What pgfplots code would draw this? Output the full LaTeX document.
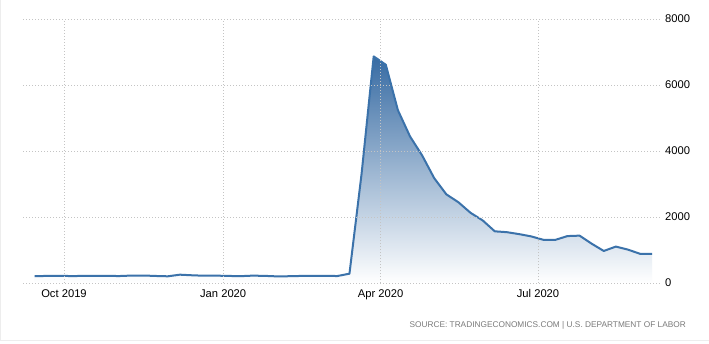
\documentclass[border=0pt]{standalone}
\usepackage{pgfplots}
\pgfplotsset{compat=1.18}
\usepackage{fontspec}
\setmainfont{Liberation Sans}
\definecolor{linec}{HTML}{3B72AA}
\definecolor{topc}{HTML}{376BA3}
\definecolor{gridc}{HTML}{C4C4C4}
\definecolor{srcc}{HTML}{7A7A7A}
\definecolor{framec}{HTML}{EDEDED}
\pgfplotstableread{
day val
-17 210
-10 213
-3 219
4 210
11 214
18 218
25 215
32 211
39 225
46 227
53 213
60 203
67 252
74 234
81 220
88 223
95 214
102 207
109 223
116 216
123 201
130 205
137 214
144 219
151 217
158 211
165 282
172 3307
179 6867
186 6615
193 5237
200 4442
207 3867
214 3176
221 2687
228 2446
235 2126
242 1897
249 1566
256 1540
263 1482
270 1413
277 1310
284 1307
291 1422
298 1435
305 1191
312 971
319 1104
326 1011
333 884
340 884
}\claims
\begin{document}
\begin{tikzpicture}[x=1pt,y=1pt]
\useasboundingbox (0,0) rectangle (709,343);
\fill[white] (0,0) rectangle (709,343);
\draw[framec, line width=1pt] (0.5,343) -- (0.5,3) -- (709,3);
\begin{axis}[
  at={(23pt,60pt)}, anchor=south west,
  scale only axis, width=637pt, height=264pt,
  xmin=-23.7, xmax=344.5, ymin=0, ymax=8000,
  axis line style={draw=none},
  major tick length=0pt,
  xtick={0,92,183,274},
  xticklabels={Oct 2019, Jan 2020, Apr 2020, Jul 2020},
  ytick={0,2000,4000,6000,8000},
  yticklabel pos=right,
  grid=major,
  grid style={gridc, line width=0.7pt, dash pattern=on 1pt off 2pt},
  axis on top,
  /pgf/number format/.cd, 1000 sep={}, assume math mode=true,
  /pgfplots/.cd,
  ticklabel style={font=\fontsize{11.2}{13}\selectfont, text=black, inner sep=0pt},
  xticklabel style={anchor=north, yshift=-6pt},
  yticklabel style={anchor=west, xshift=5pt},
  clip=false,
]
\addplot[draw=none, shading=axis, top color=topc, bottom color=white, shading angle=0] table[x=day,y=val]{\claims} \closedcycle;
\addplot[linec, line width=2pt, line join=round, mark=none] table[x=day,y=val]{\claims};
\end{axis}
\node[anchor=east, text=srcc, font=\fontsize{8.3}{10}\selectfont, inner sep=0pt] at (686,18) {SOURCE: TRADINGECONOMICS.COM \textbar{} U.S. DEPARTMENT OF LABOR};
\end{tikzpicture}
\end{document}
